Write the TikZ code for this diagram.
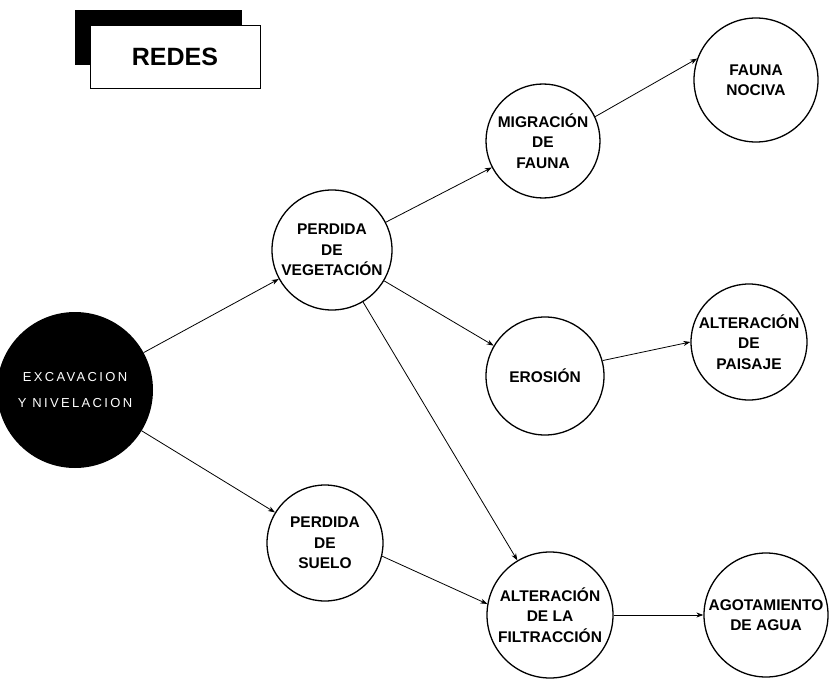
\documentclass[tikz,border=0pt]{standalone}
\usepackage{fontspec}
\setmainfont{Liberation Sans}
\usetikzlibrary{arrows.meta}

\begin{document}
\begin{tikzpicture}[x=1pt, y=-1pt,
            effect/.style={
                circle, draw, line width=1.3pt, align=center, inner sep=0pt,
                font=\bfseries\fontsize{15.5}{20.5}\selectfont
            },
            source/.style={
                circle, fill=black, text=white, align=center, inner sep=0pt,
                minimum size=156pt,
                font=\fontsize{13}{26}\selectfont\addfontfeatures{LetterSpace=18}
            },
            arrow/.style={-{Stealth[length=7pt, width=5pt]}, line width=0.8pt},
            titlebox/.style={
                draw, fill=white, line width=0.6pt, minimum width=170pt,
                minimum height=63pt, font=\bfseries\fontsize{25}{30}\selectfont
            },
            shadowbox/.style={fill=black, minimum width=167pt, minimum height=55pt}
        ]
            \useasboundingbox (0,0) rectangle (830,682);

            % Title with shadow
            \node[shadowbox] (shadow) at (158.5,37.5) {};
            \node[titlebox] (title) at (175,56.5) {REDES};

            % Source activity
            \node[source] (exc) at (75,390) {EXCAVACION\\Y NIVELACION};

            % First level effects
            \node[effect, minimum size=120pt] (veg) at (332,250) {PERDIDA\\DE\\VEGETACIÓN};
            \node[effect, minimum size=116pt] (suelo) at (325,543) {PERDIDA\\DE\\SUELO};

            % Second level effects
            \node[effect, minimum size=114pt] (mig) at (543,141) {MIGRACIÓN\\DE\\FAUNA};
            \node[effect, minimum size=118pt] (ero) at (545,376) {EROSIÓN};
            \node[effect, minimum size=126pt] (fil) at (550,615) {ALTERACIÓN\\DE LA\\FILTRACCIÓN};

            % Final effects
            \node[effect, minimum size=124pt] (fau) at (756,80) {FAUNA\\NOCIVA};
            \node[effect, minimum size=116pt] (pai) at (749,342) {ALTERACIÓN\\DE\\PAISAJE};
            \node[effect, minimum size=124pt] (ago) at (766,615) {AGOTAMIENTO\\DE AGUA};

            % Connections
            \draw[arrow] (exc) -- (veg);
            \draw[arrow] (exc) -- (suelo);
            \draw[arrow] (veg) -- (mig);
            \draw[arrow] (veg) -- (ero);
            \draw[arrow] (veg) -- (fil);
            \draw[arrow] (mig.25) -- (fau.160);
            \draw[arrow] (ero.15) -- (pai.180);
            \draw[arrow] (suelo.-13) -- (fil.170);
            \draw[arrow] (fil.east) -- (ago.west);
        \end{tikzpicture}
\end{document}
